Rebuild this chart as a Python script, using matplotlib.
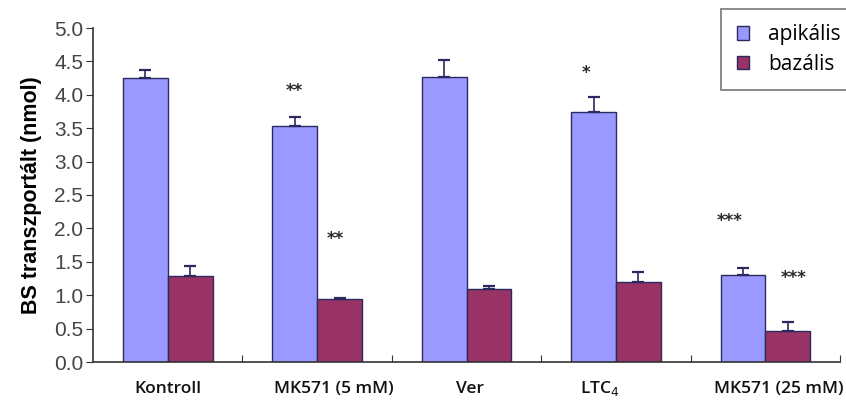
import matplotlib
matplotlib.use("Agg")
import matplotlib.pyplot as plt
import numpy as np

categories = ["Kontroll", "MK571 (5 mM)", "Ver", "LTC$_4$", "MK571 (25 mM)"]
apikalis = [4.25, 3.53, 4.27, 3.74, 1.30]
apikalis_err = [0.12, 0.14, 0.25, 0.23, 0.10]
bazalis = [1.29, 0.94, 1.09, 1.20, 0.47]
bazalis_err = [0.14, 0.02, 0.05, 0.14, 0.13]
apikalis_sig = ["", "**", "", "*", "***"]
bazalis_sig = ["", "**", "", "", "***"]
yticks = [0.0, 0.5, 1.0, 1.5, 2.0, 2.5, 3.0, 3.5, 4.0, 4.5, 5.0]

# layout-only parameters (annotation positions / label offsets)
a_sig_y = [None, 4.05, None, 4.33, 2.11]
a_sig_dx = [0, 0, 0, -0.05, -0.09]
b_sig_y = [None, 1.84, None, None, 1.26]
b_sig_dx = [0, -0.03, 0, 0, 0.04]
label_dx = [0.0, 0.11, 0.02, -0.11, 0.09]

fig = plt.figure(figsize=(8.46, 4.0), dpi=100)
ax = fig.add_axes([0.110, 0.095, 0.883, 0.835])

x = np.arange(len(categories)) + 0.5
w = 0.3
edge = "#2a2a60"
ax.bar(x - w / 2, apikalis, w, color="#9999FF", edgecolor=edge, linewidth=1.0,
       yerr=[np.zeros(len(x)), apikalis_err],
       error_kw=dict(ecolor=edge, elinewidth=1.2, capsize=4.5, capthick=1.6),
       label="apikális", zorder=2)
ax.bar(x + w / 2, bazalis, w, color="#993366", edgecolor=edge, linewidth=1.0,
       yerr=[np.zeros(len(x)), bazalis_err],
       error_kw=dict(ecolor=edge, elinewidth=1.2, capsize=4.5, capthick=1.6),
       label="bazális", zorder=2)

for i in range(len(x)):
    if apikalis_sig[i]:
        ax.text(x[i] - w / 2 + a_sig_dx[i], a_sig_y[i], apikalis_sig[i], ha="center", va="center",
                fontsize=12, fontweight="bold", color="#2a2a2a")
    if bazalis_sig[i]:
        ax.text(x[i] + w / 2 + b_sig_dx[i], b_sig_y[i], bazalis_sig[i], ha="center", va="center",
                fontsize=12, fontweight="bold", color="#2a2a2a")

ax.set_xlim(0, len(categories))
ax.set_ylim(0, 5.0)
ax.set_yticks(yticks)
ax.set_yticklabels([f"{v:.1f}" for v in yticks], fontsize=15, color="#444444",
                   fontfamily="Liberation Sans")
ax.set_xticks(np.arange(1, len(categories) + 1))
ax.set_xticklabels([])
ax.tick_params(axis="x", direction="in", length=5, color="#333333")
ax.tick_params(axis="y", direction="out", length=5, color="#333333", pad=2)
for i, c in enumerate(categories):
    ax.text(x[i] + label_dx[i], -0.40, c, ha="center", va="center", fontsize=12.5,
            fontfamily="Open Sans", fontweight="semibold", color="#111111", clip_on=False)

ax.spines["top"].set_visible(False)
ax.spines["right"].set_visible(False)
ax.spines["left"].set_color("#333333")
ax.spines["bottom"].set_color("#333333")
ax.spines["left"].set_linewidth(1.2)
ax.spines["bottom"].set_linewidth(1.2)

ax.set_ylabel("BS transzportált (nmol)", fontsize=15.5, fontweight="bold", labelpad=9,
              fontfamily="Liberation Sans")

leg = fig.legend(loc="upper right", bbox_to_anchor=(1.012, 0.978), frameon=True, fancybox=False,
                 edgecolor="#555555", handlelength=0.6, handleheight=0.6,
                 prop={"family": "Open Sans", "size": 15}, borderpad=0.75, labelspacing=0.4,
                 handletextpad=0.9, borderaxespad=0)
leg.get_frame().set_linewidth(1.2)

fig.savefig("out.png", dpi=100)
